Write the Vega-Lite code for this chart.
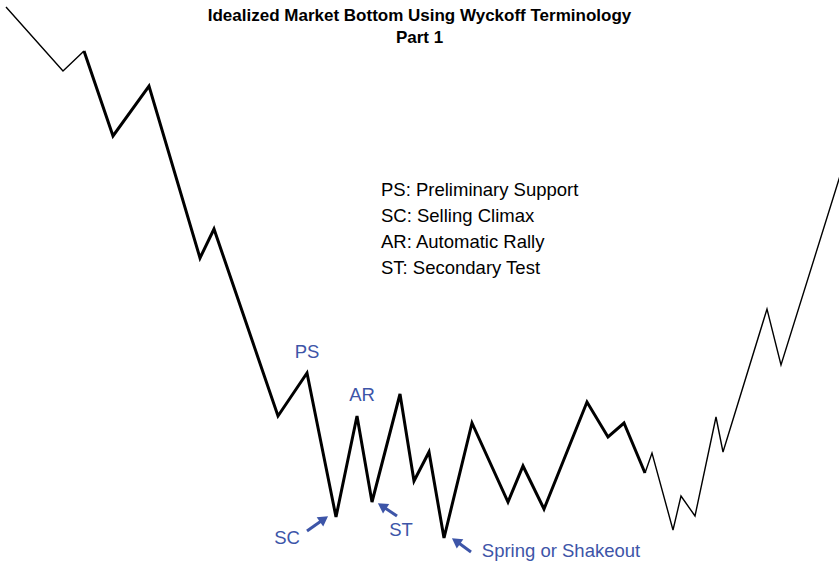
{
  "$schema": "https://vega.github.io/schema/vega-lite/v6.json",
  "width": 839,
  "height": 565,
  "padding": 0,
  "autosize": "none",
  "background": "white",
  "config": {"view": {"stroke": null}, "font": "Liberation Sans"},
  "title": {
    "text": ["Idealized Market Bottom Using Wyckoff Terminology", "Part 1"],
    "orient": "top",
    "anchor": "middle",
    "offset": -47,
    "fontSize": 17,
    "fontWeight": "bold",
    "font": "Liberation Sans",
    "lineHeight": 22,
    "color": "black"
  },
  "datasets": {
    "price": [
      {"t": 6, "p": 558, "seg": "a"},
      {"t": 63, "p": 494, "seg": "a"},
      {"t": 84, "p": 514, "seg": "a"},
      {"t": 84, "p": 514, "seg": "b"},
      {"t": 113, "p": 429, "seg": "b"},
      {"t": 149, "p": 479, "seg": "b"},
      {"t": 200, "p": 307, "seg": "b"},
      {"t": 214, "p": 336, "seg": "b"},
      {"t": 278, "p": 149, "seg": "b"},
      {"t": 307, "p": 192, "seg": "b"},
      {"t": 336, "p": 48, "seg": "b"},
      {"t": 357, "p": 149, "seg": "b"},
      {"t": 372, "p": 63, "seg": "b"},
      {"t": 400, "p": 171, "seg": "b"},
      {"t": 414, "p": 84, "seg": "b"},
      {"t": 429, "p": 113, "seg": "b"},
      {"t": 444, "p": 27, "seg": "b"},
      {"t": 472, "p": 142, "seg": "b"},
      {"t": 508, "p": 63, "seg": "b"},
      {"t": 523, "p": 99, "seg": "b"},
      {"t": 544, "p": 56, "seg": "b"},
      {"t": 587, "p": 163, "seg": "b"},
      {"t": 608, "p": 128, "seg": "b"},
      {"t": 624, "p": 142, "seg": "b"},
      {"t": 645, "p": 92, "seg": "b"},
      {"t": 645, "p": 92, "seg": "c"},
      {"t": 652, "p": 112, "seg": "c"},
      {"t": 673, "p": 35, "seg": "c"},
      {"t": 681, "p": 69, "seg": "c"},
      {"t": 695, "p": 49, "seg": "c"},
      {"t": 716, "p": 148, "seg": "c"},
      {"t": 723, "p": 113, "seg": "c"},
      {"t": 767, "p": 256, "seg": "c"},
      {"t": 781, "p": 200, "seg": "c"},
      {"t": 840, "p": 389, "seg": "c"}
    ],
    "labels": [
      {"t": 307, "p": 213, "label": "PS"},
      {"t": 362, "p": 170, "label": "AR"},
      {"t": 287, "p": 27, "label": "SC"},
      {"t": 401, "p": 35, "label": "ST"},
      {"t": 561, "p": 14, "label": "Spring or Shakeout"}
    ],
    "legend": [
      {"t": 381, "p": 375, "label": "PS: Preliminary Support"},
      {"t": 381, "p": 349, "label": "SC: Selling Climax"},
      {"t": 381, "p": 323, "label": "AR: Automatic Rally"},
      {"t": 381, "p": 297, "label": "ST: Secondary Test"}
    ],
    "arrows": [
      {"t": 307, "p": 34, "t2": 324, "p2": 46, "ang": 55},
      {"t": 397, "p": 49, "t2": 382, "p2": 59, "ang": 303},
      {"t": 471, "p": 13, "t2": 456, "p2": 24, "ang": 305}
    ]
  },
  "encoding": {
    "x": {"field": "t", "type": "quantitative", "scale": {"domain": [0, 839], "nice": false, "zero": false}, "axis": null},
    "y": {"field": "p", "type": "quantitative", "scale": {"domain": [0, 565], "nice": false, "zero": false}, "axis": null}
  },
  "layer": [
    {
      "data": {"name": "price"},
      "transform": [{"filter": "datum.seg != 'b'"}],
      "mark": {"type": "line", "color": "black", "strokeWidth": 1.4, "strokeJoin": "miter"},
      "encoding": {"detail": {"field": "seg", "type": "nominal"}}
    },
    {
      "data": {"name": "price"},
      "transform": [{"filter": "datum.seg == 'b'"}],
      "mark": {"type": "line", "color": "black", "strokeWidth": 3, "strokeJoin": "miter"}
    },
    {
      "data": {"name": "arrows"},
      "mark": {"type": "rule", "color": "#3D55A8", "strokeWidth": 3},
      "encoding": {"x2": {"field": "t2"}, "y2": {"field": "p2"}}
    },
    {
      "data": {"name": "arrows"},
      "mark": {"type": "point", "shape": "triangle-up", "filled": true, "color": "#3D55A8", "opacity": 1, "size": 130},
      "encoding": {
        "x": {"field": "t2", "type": "quantitative"},
        "y": {"field": "p2", "type": "quantitative"},
        "angle": {"field": "ang", "type": "quantitative", "scale": null}
      }
    },
    {
      "data": {"name": "labels"},
      "mark": {"type": "text", "color": "#3D55A8", "fontSize": 18.5, "align": "center", "baseline": "middle"},
      "encoding": {"text": {"field": "label"}}
    },
    {
      "data": {"name": "legend"},
      "mark": {"type": "text", "color": "black", "fontSize": 18.5, "align": "left", "baseline": "middle"},
      "encoding": {"text": {"field": "label"}}
    }
  ]
}
